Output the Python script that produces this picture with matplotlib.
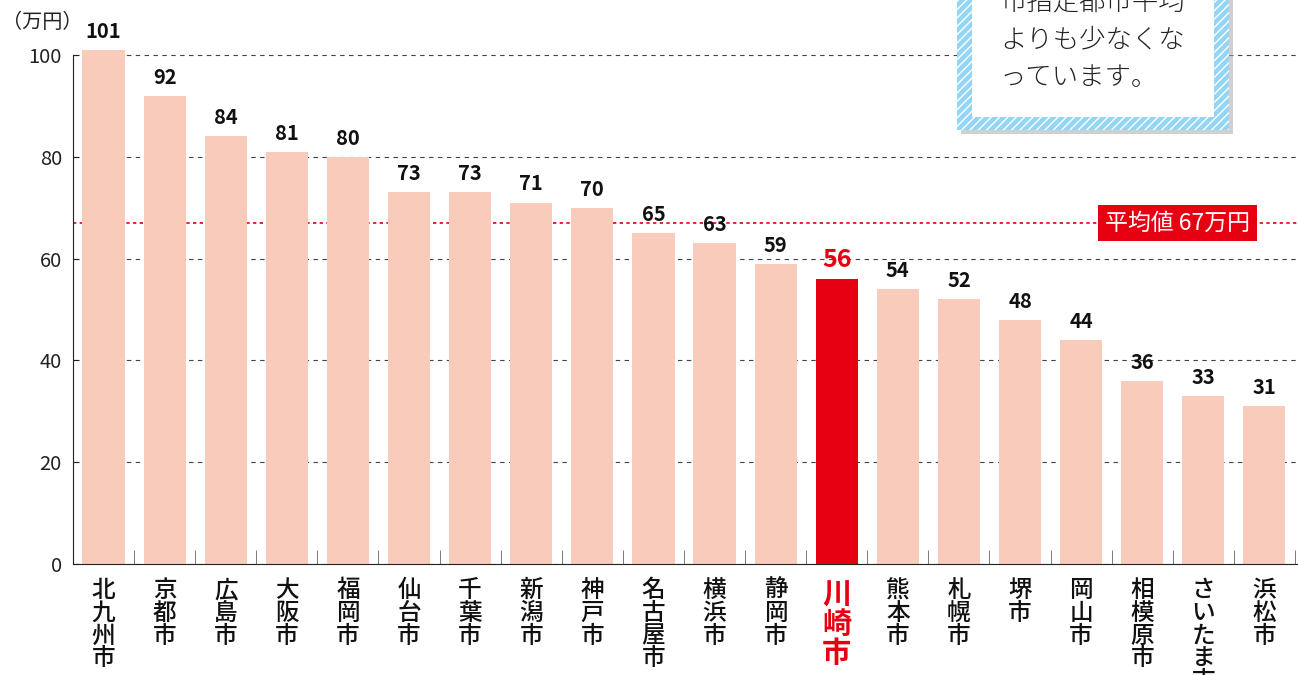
import matplotlib.pyplot as plt
from matplotlib.patches import Rectangle

plt.rcParams['font.family'] = ['Noto Sans CJK JP', 'DejaVu Sans']

cities = ['北九州市', '京都市', '広島市', '大阪市', '福岡市', '仙台市', '千葉市',
          '新潟市', '神戸市', '名古屋市', '横浜市', '静岡市', '川崎市', '熊本市',
          '札幌市', '堺市', '岡山市', '相模原市', 'さいたま市', '浜松市']
values = [101, 92, 84, 81, 80, 73, 73, 71, 70, 65, 63, 59, 56, 54, 52, 48, 44, 36, 33, 31]
avg = 67
highlight = '川崎市'
note_lines = ['市指定都市平均', 'よりも少なくな', 'っています。']

pink = '#F8CBBA'
red = '#E60012'

W, H = 1298, 675
fig = plt.figure(figsize=(W / 100, H / 100), dpi=100)
ax = fig.add_axes([73 / W, (H - 564) / H, (W - 73) / W, 564 / H])

x = list(range(len(cities)))
colors = [red if c == highlight else pink for c in cities]
ax.bar(x, values, width=0.69, color=colors, zorder=2)

for i, (c, v) in enumerate(zip(cities, values)):
    if c == highlight:
        ax.text(i, v + 1.4, str(v), ha='center', va='bottom', fontsize=18,
                fontweight='bold', color=red)
    else:
        ax.text(i, v + 1.6, str(v), ha='center', va='bottom', fontsize=14.5,
                fontweight='bold', color='#111')

ax.set_xlim(-0.5, 19.55)
ax.set_ylim(0, 110.8)

# grid
ax.set_yticks([0, 20, 40, 60, 80, 100])
ax.yaxis.grid(True, linestyle=(0, (4, 4)), color='#444', lw=0.8)
ax.set_axisbelow(True)

# average line + label
ax.axhline(avg, color=red, linestyle=(0, (2, 2)), lw=1.2, zorder=1)
ax.text(17.58, avg, '平均値 67万円', ha='center', va='center', fontsize=16.5,
        color='white', zorder=5,
        bbox=dict(boxstyle='square,pad=0.3', fc=red, ec='none'))

# axes styling
for s in ['top', 'right']:
    ax.spines[s].set_visible(False)
ax.spines['left'].set_bounds(0, 100)
ax.spines['left'].set_color('#222')
ax.spines['bottom'].set_color('#222')
ax.tick_params(axis='y', direction='in', length=4, labelsize=14.5, pad=8, colors='#222')

ax.set_xticks(x)
ax.set_xticklabels(['\n'.join(c) for c in cities], fontsize=17, linespacing=0.98,
                   fontweight='medium', color='#111')
ax.set_xticks([i - 0.5 for i in range(len(cities) + 1)], minor=True)
ax.tick_params(axis='x', which='major', length=0, pad=11)
ax.tick_params(axis='x', which='minor', direction='in', length=10, color='#666')
for lab in ax.get_xticklabels():
    lab.set_verticalalignment('top')
    if lab.get_text().replace('\n', '') == highlight:
        lab.set_color(red)
        lab.set_fontsize(21)
        lab.set_fontweight('bold')

fig.text(2 / W, 1 - 22 / H, '（万円）', fontsize=14.5, va='center', ha='left', color='#222')

# callout box (cropped at top)
tf = fig.transFigure
def rect(x0, y0, x1, y1, **kw):
    r = Rectangle((x0 / W, 1 - y1 / H), (x1 - x0) / W, (y1 - y0) / H, transform=tf, **kw)
    fig.add_artist(r)
    return r

rect(961, -20, 1233, 134, fc='#aaa', ec='none', alpha=0.55, zorder=9)
rect(957, -20, 1229, 130, fc='#94D5F5', ec='white', hatch='////', lw=0, zorder=10)
rect(972, -20, 1214, 117, fc='white', ec='none', zorder=11)

for k, line in enumerate(note_lines):
    fig.text(1000 / W, 1 - (1 + 38 * k) / H, line, fontsize=19, va='center', ha='left',
             color='#222', fontweight='light', zorder=12)

fig.savefig('out.png', dpi=100)
